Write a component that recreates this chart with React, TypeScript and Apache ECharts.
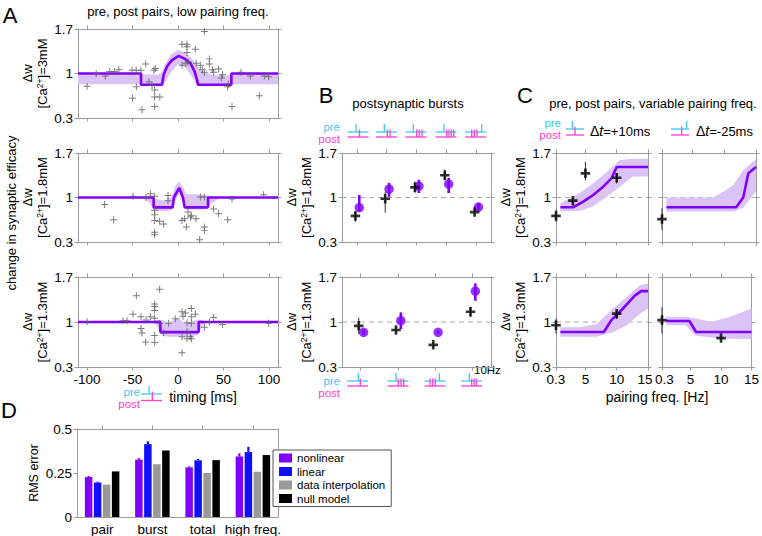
import React, { useEffect, useRef } from 'react';
import * as echarts from 'echarts';

const FONT = '"Liberation Sans", Arial, Helvetica, sans-serif';
const PURPLE = '#8000ff';
const BAND = '#dcc3f6';
const AX = '#9c9c9c';
const CYAN = '#3ec8f2';
const MAGENTA = '#ff3fcf';
const BLUE = '#1010ff';
const GREY_BAR = '#999999';

// ---------- shared ticks ----------
const timingTicks = [-100, -50, 0, 50, 100];
const dwTicks = [0.3, 1, 1.7];
const freqTicks = [0.3, 5, 10, 15];

// ---------- Panel A : pre/post pairs, low pairing frequency ----------
const a3Points: [number, number][] = [
  [-100, 0.8], [-90, 1.0], [-80, 0.96], [-75, 1.03], [-70, 1.03], [-65, 1.06], [-50.6, 1.05], [-50, 0.61],
  [-46, 1.05], [-45.8, 0.79], [-40.7, 1.05], [-39.6, 0.43], [-35.6, 1.15], [-32, 0.87], [-28.6, 0.81],
  [-26.4, 1.05], [-25, 1.08], [-25.7, 0.74], [-25.7, 0.63], [-25.7, 0.48], [-20, 0.63], [4.4, 1.46],
  [9.9, 1.46], [9.9, 1.42], [9.9, 1.33], [4.4, 1.13], [8.8, 1.16], [11, 1.18], [19, 1.38], [20, 1.16],
  [24.6, 1.13], [26.8, 1.06], [29, 1.66], [29, 1.02], [34.5, 1.23], [34.5, 1.15], [37.8, 1.06], [39.2, 1.02],
  [44.7, 1.07], [47.7, 0.93], [49, 0.98], [54.6, 0.79], [55.4, 0.83], [59.4, 0.48], [69.3, 1.02],
  [79.6, 0.96], [89.5, 0.65], [95, 0.96], [99.7, 0.95],
];
const a3Fit: [number, number][] = [
  [-110, 1], [-40.7, 1], [-40.7, 0.822], [-17.6, 0.822], [-15.8, 0.98], [-12.1, 1.11], [-6.6, 1.21],
  [0.7, 1.277], [8.1, 1.225], [13.6, 1.162], [18.3, 1.03], [20.9, 0.9], [22, 0.822], [58.7, 0.822],
  [58.7, 1], [110, 1],
];
const a3Band: [number, number, number][] = [
  [-110, 0.83, 1.0], [-42, 0.83, 1.0], [-38, 0.8, 0.99], [-22, 0.8, 0.98], [-18, 0.82, 1.02],
  [-14, 0.86, 1.15], [-8, 1.02, 1.3], [0, 1.15, 1.37], [8, 1.1, 1.33], [14, 0.98, 1.25], [20, 0.84, 1.14],
  [26, 0.82, 1.04], [40, 0.82, 0.97], [55, 0.82, 0.97], [60, 0.83, 1.0], [110, 0.83, 1.0],
];

const a18Points: [number, number][] = [
  [-80.7, 0.89], [-70.8, 0.65], [-49.5, 1.02], [-35.2, 1.0], [-30.4, 1.06], [-25.7, 1.02], [-25.7, 0.8],
  [-25.7, 0.73], [-25.7, 0.64], [-20.2, 0.625], [-15.8, 0.583], [-25.7, 0.452], [-25.7, 0.415],
  [-11, 0.95], [-11, 1.03], [4.4, 0.64], [7.3, 0.667], [9.2, 0.536], [11, 0.772], [13.6, 0.693],
  [14.7, 0.714], [19.8, 0.667], [23.8, 0.337], [29, 0.536], [29, 0.483], [24.6, 1.008], [29, 1.008],
  [39.2, 0.819], [44.7, 0.745], [54.6, 0.651], [59.4, 0.976], [94.2, 1.045],
];
const a18Fit: [number, number][] = [
  [-110, 1], [-26.8, 1], [-26.8, 0.845], [-5.9, 0.845], [-4.5, 1.0], [1.4, 1.15], [5.5, 1.0],
  [7.3, 0.845], [33, 0.845], [33, 1], [110, 1],
];
const a18Band: [number, number, number][] = [
  [-110, 1, 1], [-40, 1, 1], [-32, 0.93, 1.0], [-27, 0.8, 0.99], [-15, 0.78, 0.95], [-7, 0.8, 1.0],
  [-3, 0.95, 1.18], [1, 1.05, 1.25], [5, 0.95, 1.18], [9, 0.81, 1.05], [20, 0.81, 1.05], [30, 0.81, 1.04],
  [36, 0.9, 1.02], [45, 0.98, 1.01], [50, 1, 1], [110, 1, 1],
];

const a13Points: [number, number][] = [
  [-100, 1.005], [-60.5, 1.02], [-56, 1.02], [-49.5, 1.12], [-45.8, 1.41], [-40.7, 1.08], [-40.7, 0.9],
  [-39.6, 0.83], [-35.6, 0.69], [-35.2, 1.03], [-30.4, 1.08], [-25.7, 1.28], [-25.7, 1.24], [-25.7, 1.18],
  [-25.7, 1.06], [-25.7, 0.79], [-25.7, 0.68], [-20.2, 1.51], [-20.2, 0.98], [-15.8, 0.83], [-10.3, 0.98],
  [-3, 1.05], [4.4, 1.16], [4.4, 0.77], [5.5, 1.09], [8, 1.14], [9.9, 0.99], [9.9, 0.85], [9.9, 0.74],
  [13.6, 0.77], [14.7, 0.74], [14.7, 1.21], [14.7, 1.08], [14.7, 0.98], [4.4, 0.52], [19, 1.12],
  [29, 0.92], [34.5, 1.0], [39.2, 1.07], [49, 0.96], [99.7, 0.98],
];
const a13Fit: [number, number][] = [
  [-110, 1], [-19.4, 1], [-19.4, 0.843], [22.7, 0.843], [22.7, 1], [110, 1],
];
const a13Band: [number, number, number][] = [
  [-110, 1, 1], [-30, 1, 1], [-24, 0.96, 1.03], [-18, 0.79, 1.03], [-10, 0.77, 0.99], [-4, 0.77, 1.04],
  [1, 0.77, 1.07], [6, 0.77, 0.98], [15, 0.77, 1.0], [22, 0.8, 1.04], [28, 0.97, 1.02], [32, 1, 1], [110, 1, 1],
];

// ---------- Panel B : postsynaptic bursts ----------
const burstTopExp = [0.71, 0.98, 1.16, 1.35, 0.77];
const burstTopExpErr: [number, number][] = [[0.62, 0.78], [0.76, 1.09], [1.07, 1.25], [1.27, 1.44], [0.73, 0.82]];
const burstTopModel = [0.84, 1.13, 1.18, 1.21, 0.85];
const burstTopModelErr: [number, number][] = [[0.78, 1.04], [1.01, 1.23], [1.07, 1.28], [1.07, 1.31], [0.8, 0.91]];

const burstBotExp = [0.94, 0.875, 0.645, 1.16];
const burstBotExpErr: [number, number][] = [[0.81, 1.07], [0.84, 0.92], [0.61, 0.68], [1.08, 1.24]];
const burstBotModel = [0.84, 1.02, 0.84, 1.48];
const burstBotModelErr: [number, number][] = [[0.8, 0.88], [0.89, 1.15], [0.81, 0.87], [1.33, 1.6]];

// ---------- Panel C : variable pairing frequency ----------
const cTopPlusFreq = [0.3, 3, 5, 10];
const cTopPlusExp = [0.71, 0.95, 1.38, 1.31];
const cTopPlusErr: [number, number][] = [[0.62, 0.81], [0.91, 0.99], [1.27, 1.56], [1.22, 1.38]];
const cTopPlusFit: [number, number][] = [[1, 0.846], [3, 0.846], [4.65, 0.935], [6.24, 1.04], [7.84, 1.17], [9.16, 1.3], [10, 1.48], [15, 1.48]];
const cTopPlusBand: [number, number, number][] = [[1, 0.78, 0.91], [4.1, 0.79, 1.07], [6.2, 0.86, 1.22], [8.4, 1.01, 1.4], [10.5, 1.17, 1.59], [12.6, 1.33, 1.61], [15, 1.33, 1.61]];

const cTopMinusFreq = [0.3];
const cTopMinusExp = [0.66];
const cTopMinusErr: [number, number][] = [[0.49, 0.83]];
const cTopMinusFit: [number, number][] = [[1, 0.846], [11.9, 0.846], [13, 1.0], [13.8, 1.38], [15, 1.48]];
const cTopMinusBand: [number, number, number][] = [[1, 0.78, 1.0], [8.3, 0.78, 1.0], [10.4, 0.78, 1.12], [11.5, 0.78, 1.2], [13, 0.84, 1.43], [15, 1.1, 1.6]];

const cBotPlusFreq = [0.3, 10];
const cBotPlusExp = [0.95, 1.13];
const cBotPlusErr: [number, number][] = [[0.82, 1.05], [1.05, 1.19]];
const cBotPlusFit: [number, number][] = [[1, 0.844], [7.94, 0.844], [9.16, 1.03], [11, 1.21], [12.9, 1.41], [13.9, 1.48], [15, 1.48]];
const cBotPlusBand: [number, number, number][] = [[1, 0.77, 0.92], [4.1, 0.77, 0.92], [6.8, 0.77, 0.97], [9.4, 0.84, 1.21], [11.6, 0.95, 1.39], [13.7, 1.13, 1.57], [15, 1.21, 1.6]];

const cBotMinusFreq = [0.3, 10];
const cBotMinusExp = [1.03, 0.75];
const cBotMinusErr: [number, number][] = [[0.82, 1.23], [0.72, 0.78]];
const cBotMinusFit: [number, number][] = [[1, 1.016], [4.8, 1.016], [5.9, 0.844], [15, 0.844]];
const cBotMinusBand: [number, number, number][] = [[1, 0.95, 1.08], [4.2, 0.95, 1.08], [5.7, 0.79, 1.06], [8.3, 0.76, 1.0], [11.5, 0.74, 1.08], [15, 0.73, 1.21]];

// ---------- Panel D : RMS error ----------
const rmsCategories = ['pair', 'burst', 'total', 'high freq.'];
const rmsNonlinear = [0.227, 0.326, 0.282, 0.344];
const rmsNonlinearErr = [0.006, 0.009, 0.006, 0.018];
const rmsLinear = [0.196, 0.414, 0.322, 0.369];
const rmsLinearErr = [0.005, 0.016, 0.008, 0.03];
const rmsInterp = [0.184, 0.3, 0.25, 0.257];
const rmsNull = [0.259, 0.378, 0.323, 0.352];

const caNames = ['3mM', '1.8mM', '1.3mM'];

const plusThin = 'path://M0,4.3H10V5.7H0Z M4.3,0H5.7V10H4.3Z';
const plusBold = 'path://M0,3.6H10V6.4H0Z M3.6,0H6.4V10H3.6Z';

const dwName = (conc: string) => `Δw\n[Ca{s|2+}]=${conc}`;

function buildOption() {
  const grids = [
    { left: 78, top: 29, width: 200, height: 89 },
    { left: 78, top: 153, width: 200, height: 89 },
    { left: 78, top: 277, width: 200, height: 90 },
    { left: 342, top: 153, width: 149, height: 89 },
    { left: 342, top: 277, width: 149, height: 90 },
    { left: 556, top: 153, width: 92, height: 89 },
    { left: 662, top: 153, width: 94, height: 89 },
    { left: 556, top: 277, width: 92, height: 90 },
    { left: 662, top: 277, width: 94, height: 90 },
    { left: 77, top: 429, width: 201, height: 89 },
  ];
  const xAxes: any[] = [];
  const yAxes: any[] = [];
  const series: any[] = [];

  const lab = (show: boolean, custom?: number[], extra: any = {}) => ({
    show, color: '#000', fontSize: 13.5, fontFamily: FONT, margin: 5,
    ...(custom ? { customValues: custom } : {}),
    ...extra,
  });
  const line = { show: true, onZero: false, lineStyle: { color: AX, width: 1 } };
  const tick = (custom: number[] | undefined, show = true) => ({
    show, length: 3.5, inside: false, lineStyle: { color: AX },
    ...(custom ? { customValues: custom } : {}),
  });

  function box(g: number, x: { min: number; max: number; ticks: number[]; labels: boolean; extra?: any },
    y: { min: number; max: number; ticks: number[]; labels: boolean; name?: string; gap?: number }) {
    const xi = xAxes.length;
    xAxes.push({ type: 'value', gridIndex: g, min: x.min, max: x.max, position: 'bottom', axisLine: line,
      axisTick: tick(x.ticks), axisLabel: lab(x.labels, x.ticks, x.extra || {}), splitLine: { show: false } });
    xAxes.push({ type: 'value', gridIndex: g, min: x.min, max: x.max, position: 'top', axisLine: line,
      axisTick: tick(x.ticks), axisLabel: { show: false }, splitLine: { show: false } });
    const yi = yAxes.length;
    yAxes.push({ type: 'value', gridIndex: g, min: y.min, max: y.max, position: 'left', axisLine: line,
      axisTick: tick(y.ticks), axisLabel: lab(y.labels, y.ticks), splitLine: { show: false },
      name: y.name, nameLocation: 'middle', nameRotate: 90, nameGap: y.gap ?? 28,
      nameTextStyle: {
        color: '#000', fontSize: 13, fontFamily: FONT, lineHeight: 15,
        rich: { s: { fontSize: 8.5, fontFamily: FONT, color: '#000', verticalAlign: 'top', lineHeight: 9 } },
      } });
    yAxes.push({ type: 'value', gridIndex: g, min: y.min, max: y.max, position: 'right', axisLine: line,
      axisTick: tick(y.ticks), axisLabel: { show: false }, splitLine: { show: false } });
    return { xi, yi };
  }

  const bandSeries = (rows: [number, number, number][], a: { xi: number; yi: number }) => ({
    type: 'custom', xAxisIndex: a.xi, yAxisIndex: a.yi, silent: true, z: 1, data: rows,
    encode: { x: 0, y: [1, 2] },
    renderItem: (params: any, api: any) => {
      if (params.dataIndex !== 0) return null;
      const up = rows.map((r) => api.coord([r[0], r[2]]));
      const lo = rows.slice().reverse().map((r) => api.coord([r[0], r[1]]));
      return { type: 'polygon', shape: { points: up.concat(lo) }, style: { fill: BAND } };
    },
  });
  const fitSeries = (pts: [number, number][], a: { xi: number; yi: number }) => ({
    type: 'line', xAxisIndex: a.xi, yAxisIndex: a.yi, data: pts, symbol: 'none', silent: true, z: 3,
    lineStyle: { color: PURPLE, width: 2.6 },
  });
  const errSeries = (rows: [number, number, number][], a: { xi: number; yi: number }, color: string, w: number, z: number) => ({
    type: 'custom', xAxisIndex: a.xi, yAxisIndex: a.yi, silent: true, z, data: rows,
    encode: { x: 0, y: [1, 2] },
    renderItem: (_p: any, api: any) => {
      const p1 = api.coord([api.value(0), api.value(1)]);
      const p2 = api.coord([api.value(0), api.value(2)]);
      return { type: 'line', shape: { x1: p1[0], y1: p1[1], x2: p2[0], y2: p2[1] }, style: { stroke: color, lineWidth: w } };
    },
  });
  const refLine = (a: { xi: number; yi: number }, x0: number, x1: number) => ({
    type: 'line', xAxisIndex: a.xi, yAxisIndex: a.yi, data: [[x0, 1], [x1, 1]], symbol: 'none', silent: true, z: 0,
    lineStyle: { color: '#aaaaaa', width: 1, type: [5, 4] },
  });
  const expScatter = (pts: [number, number][], a: { xi: number; yi: number }) => ({
    type: 'scatter', xAxisIndex: a.xi, yAxisIndex: a.yi, data: pts, symbol: plusBold, symbolSize: 9.5, z: 6,
    silent: true, itemStyle: { color: '#000' },
  });

  // ---- Panel A
  const aSets = [
    { pts: a3Points, fit: a3Fit, band: a3Band, name: dwName(caNames[0]) },
    { pts: a18Points, fit: a18Fit, band: a18Band, name: dwName(caNames[1]) },
    { pts: a13Points, fit: a13Fit, band: a13Band, name: dwName(caNames[2]) },
  ];
  aSets.forEach((s, i) => {
    const a = box(i, { min: -110, max: 110, ticks: timingTicks, labels: i === 2 },
      { min: 0.3, max: 1.7, ticks: dwTicks, labels: true, name: s.name, gap: 28 });
    series.push(bandSeries(s.band, a));
    series.push(fitSeries(s.fit, a));
    series.push({ type: 'scatter', xAxisIndex: a.xi, yAxisIndex: a.yi, data: s.pts, symbol: plusThin,
      symbolSize: 7, z: 4, silent: true, itemStyle: { color: '#5a5a5a' } });
  });

  // ---- Panel B
  const expOff = -0.05;
  const modOff = 0.08;
  const bSets = [
    { g: 3, n: 5, exp: burstTopExp, expErr: burstTopExpErr, mod: burstTopModel, modErr: burstTopModelErr, name: dwName(caNames[1]) },
    { g: 4, n: 4, exp: burstBotExp, expErr: burstBotExpErr, mod: burstBotModel, modErr: burstBotModelErr, name: dwName(caNames[2]) },
  ];
  bSets.forEach((s) => {
    const ticks = Array.from({ length: s.n }, (_, k) => k + 1);
    const a = box(s.g, { min: 0.5, max: s.n + 0.5, ticks, labels: false },
      { min: 0.3, max: 1.7, ticks: dwTicks, labels: true, name: s.name, gap: 23 });
    series.push(refLine(a, 0.5, s.n + 0.5));
    series.push(errSeries(s.expErr.map((e, k) => [k + 1 + expOff, e[0], e[1]] as [number, number, number]), a, '#333', 1, 4));
    series.push(errSeries(s.modErr.map((e, k) => [k + 1 + modOff, e[0], e[1]] as [number, number, number]), a, PURPLE, 2.6, 4));
    series.push(expScatter(s.exp.map((v, k) => [k + 1 + expOff, v] as [number, number]), a));
    series.push({ type: 'scatter', xAxisIndex: a.xi, yAxisIndex: a.yi, silent: true, z: 5,
      data: s.mod.map((v, k) => [k + 1 + modOff, v]), symbol: 'circle', symbolSize: 9.5, itemStyle: { color: PURPLE } });
  });

  // ---- Panel C
  const tokenStyle = { fontSize: 13.5, fontFamily: FONT, color: '#000' };
  const leftPanelLabels = {
    formatter: (v: number) => (v === 15 ? '{r|15}' : String(v)),
    rich: { r: { ...tokenStyle, padding: [0, 6, 0, 0] } },
  };
  const rightPanelLabels = {
    formatter: (v: number) => (v === 0.3 ? '{l|0.3}' : String(v)),
    rich: { l: { ...tokenStyle, padding: [0, 0, 0, 5] } },
  };
  const cSets = [
    { g: 5, f: cTopPlusFreq, exp: cTopPlusExp, err: cTopPlusErr, fit: cTopPlusFit, band: cTopPlusBand, name: dwName(caNames[1]), xl: false, extra: undefined },
    { g: 6, f: cTopMinusFreq, exp: cTopMinusExp, err: cTopMinusErr, fit: cTopMinusFit, band: cTopMinusBand, name: undefined, xl: false, extra: undefined },
    { g: 7, f: cBotPlusFreq, exp: cBotPlusExp, err: cBotPlusErr, fit: cBotPlusFit, band: cBotPlusBand, name: dwName(caNames[2]), xl: true, extra: leftPanelLabels },
    { g: 8, f: cBotMinusFreq, exp: cBotMinusExp, err: cBotMinusErr, fit: cBotMinusFit, band: cBotMinusBand, name: undefined, xl: true, extra: rightPanelLabels },
  ];
  cSets.forEach((s) => {
    const a = box(s.g, { min: 0.3, max: 15, ticks: freqTicks, labels: s.xl, extra: s.extra },
      { min: 0.3, max: 1.7, ticks: dwTicks, labels: !!s.name, name: s.name, gap: 17 });
    series.push(refLine(a, 0.3, 15));
    series.push(bandSeries(s.band, a));
    series.push(fitSeries(s.fit, a));
    series.push(errSeries(s.err.map((e, k) => [s.f[k], e[0], e[1]] as [number, number, number]), a, '#333', 1, 4));
    series.push(expScatter(s.exp.map((v, k) => [s.f[k], v] as [number, number]), a));
  });

  // ---- Panel D
  const dxi = xAxes.length;
  xAxes.push({ type: 'category', gridIndex: 9, data: rmsCategories, position: 'bottom', axisLine: line,
    axisTick: { show: false }, axisLabel: { interval: 0, color: '#000', fontSize: 13.5, fontFamily: FONT, margin: 5 } });
  xAxes.push({ type: 'category', gridIndex: 9, data: rmsCategories, position: 'top', axisLine: line,
    axisTick: { show: true, interval: 0, alignWithLabel: true, length: 3.5, lineStyle: { color: AX } }, axisLabel: { show: false } });
  const dyi = yAxes.length;
  yAxes.push({ type: 'value', gridIndex: 9, min: 0, max: 0.5, interval: 0.25, position: 'left', axisLine: line,
    axisTick: { show: true, length: 3.5, lineStyle: { color: AX } }, splitLine: { show: false },
    axisLabel: { color: '#000', fontSize: 13.5, fontFamily: FONT, margin: 5 },
    name: 'RMS error', nameLocation: 'middle', nameRotate: 90, nameGap: 37,
    nameTextStyle: { color: '#000', fontSize: 12.5, fontFamily: FONT } });
  yAxes.push({ type: 'value', gridIndex: 9, min: 0, max: 0.5, position: 'right', axisLine: line,
    axisTick: { show: false }, axisLabel: { show: false }, splitLine: { show: false } });
  const barW = 7.5;
  const barGapPx = 1.5;
  const dBars = [
    { name: 'nonlinear', data: rmsNonlinear, color: PURPLE },
    { name: 'linear', data: rmsLinear, color: BLUE },
    { name: 'data interpolation', data: rmsInterp, color: GREY_BAR },
    { name: 'null model', data: rmsNull, color: '#000' },
  ];
  dBars.forEach((b) => {
    series.push({ type: 'bar', name: b.name, xAxisIndex: dxi, yAxisIndex: dyi, data: b.data, barWidth: barW,
      barGap: (barGapPx / barW) * 100 + '%', itemStyle: { color: b.color }, silent: true, z: 2 });
  });
  const total = dBars.length * barW + (dBars.length - 1) * barGapPx;
  const barOffset = (k: number) => -total / 2 + barW / 2 + k * (barW + barGapPx);
  const dErr = (vals: number[], errs: number[], k: number, color: string) => ({
    type: 'custom', xAxisIndex: dxi, yAxisIndex: dyi, silent: true, z: 3,
    data: vals.map((v, i) => [i, v, v + errs[i]]),
    renderItem: (_p: any, api: any) => {
      const p1 = api.coord([api.value(0), api.value(1)]);
      const p2 = api.coord([api.value(0), api.value(2)]);
      const x = p1[0] + barOffset(k);
      return { type: 'line', shape: { x1: x, y1: p1[1], x2: x, y2: p2[1] }, style: { stroke: color, lineWidth: 2.2 } };
    },
  });
  series.push(dErr(rmsNonlinear, rmsNonlinearErr, 0, PURPLE));
  series.push(dErr(rmsLinear, rmsLinearErr, 1, BLUE));

  // ---- graphic decorations
  const gr: any[] = [];
  const text = (x: number, y: number, t: string, o: any = {}) => gr.push({
    type: 'text', x, y, rotation: o.rot || 0, silent: true,
    style: {
      text: t, fill: o.fill || '#000', fontSize: o.size || 13, fontFamily: FONT, fontStyle: o.italic ? 'italic' : 'normal',
      align: o.align || 'center', verticalAlign: 'middle', textAlign: o.align || 'center', textVerticalAlign: 'middle',
      rich: o.rich,
    },
  });
  const prePost = (xRight: number, yMid: number) => {
    text(xRight, yMid - 6, 'pre', { fill: CYAN, align: 'right', size: 11.5 });
    text(xRight, yMid + 6, 'post', { fill: MAGENTA, align: 'right', size: 11.5 });
  };
  const seg = (x1: number, y1: number, x2: number, y2: number, c: string) => gr.push({
    type: 'line', silent: true, shape: { x1, y1, x2, y2 }, style: { stroke: c, lineWidth: 1.3 },
  });
  const icon = (cx: number, cy: number, pre: number[], post: number[], gap = 5, hw = 10.5) => {
    seg(cx - hw, cy, cx + hw, cy, CYAN);
    seg(cx - hw, cy + gap, cx + hw, cy + gap, MAGENTA);
    pre.forEach((o) => seg(cx + o, cy - 8, cx + o, cy, CYAN));
    post.forEach((o) => seg(cx + o, cy - 2.5, cx + o, cy + gap, MAGENTA));
  };

  // panel letters
  text(10, 15, 'A', { size: 22 });
  text(326, 95, 'B', { size: 22 });
  text(525, 95, 'C', { size: 22 });
  text(9, 410, 'D', { size: 22 });

  // titles
  text(178, 11, 'pre, post pairs, low pairing freq.');
  text(408, 103, 'postsynaptic bursts');
  text(653, 103, 'pre, post pairs, variable pairing freq.');

  text(11, 213, 'change in synaptic efficacy', { rot: Math.PI / 2, size: 13 });

  // A timing axis annotations
  prePost(140, 397.5);
  icon(151.5, 394, [-2.4], [0.8], 6.5);
  text(203, 397, 'timing [ms]', { size: 14 });

  // B icons
  prePost(340, 132.5);
  icon(358, 132, [-2], [1.5]);
  icon(386.5, 132, [-2.2], [0.8, 3.5]);
  icon(416, 132, [-2.7], [0.7, 3.3, 6]);
  icon(446, 132, [-2], [0.7, 3, 5.3, 7.7]);
  icon(475.7, 132, [6], [-4, -1.4, 1.3]);

  prePost(340, 386.5);
  icon(357.5, 381, [0.8], [2.8]);
  icon(398, 381, [-2], [0.3, 3, 5.7]);
  icon(435, 381, [4.3], [-5, -2.3, 0.3]);
  icon(471.5, 381, [-2.2], [0.2, 2.5, 4.8]);
  text(474, 370, '10Hz', { size: 11.5, align: 'left' });

  // C header
  prePost(561, 129);
  icon(575, 129, [-2.7], [0], 6, 9);
  const rich = { n: { fontSize: 14, fontFamily: FONT, fill: '#000' }, i: { fontSize: 14, fontFamily: FONT, fontStyle: 'italic', fill: '#000' }, s: { fontSize: 13, fontFamily: FONT, fill: '#000' } };
  text(590, 131, '{n|Δ}{i|t}{s|=+10ms}', { align: 'left', rich });
  icon(680, 129, [6.7], [1.7], 6, 9);
  text(696, 131, '{n|Δ}{i|t}{s|=-25ms}', { align: 'left', rich });
  text(657, 397, 'pairing freq. [Hz]', { size: 14 });

  return {
    animation: false,
    backgroundColor: '#fff',
    textStyle: { fontFamily: FONT },
    grid: grids.map((g) => ({ ...g, containLabel: false })),
    xAxis: xAxes,
    yAxis: yAxes,
    legend: {
      data: dBars.map((b) => b.name), orient: 'vertical', left: 273, top: 450, icon: 'rect',
      itemWidth: 13, itemHeight: 9, itemGap: 1.5, padding: [2, 6, 2, 6],
      borderColor: '#555', borderWidth: 1, backgroundColor: '#fff', selectedMode: false,
      textStyle: { fontSize: 11.5, fontFamily: FONT, color: '#000', lineHeight: 12 },
    },
    series,
    graphic: { elements: gr },
  };
}

export default function App() {
  const ref = useRef<HTMLDivElement>(null);
  useEffect(() => {
    if (!ref.current) return;
    const chart = echarts.init(ref.current, undefined, { renderer: 'svg' });
    chart.setOption(buildOption() as any);
    return () => chart.dispose();
  }, []);
  return (
    <div
      ref={ref}
      style={{ position: 'fixed', left: 0, top: 0, width: 762, height: 536, background: '#fff' }}
    />
  );
}
